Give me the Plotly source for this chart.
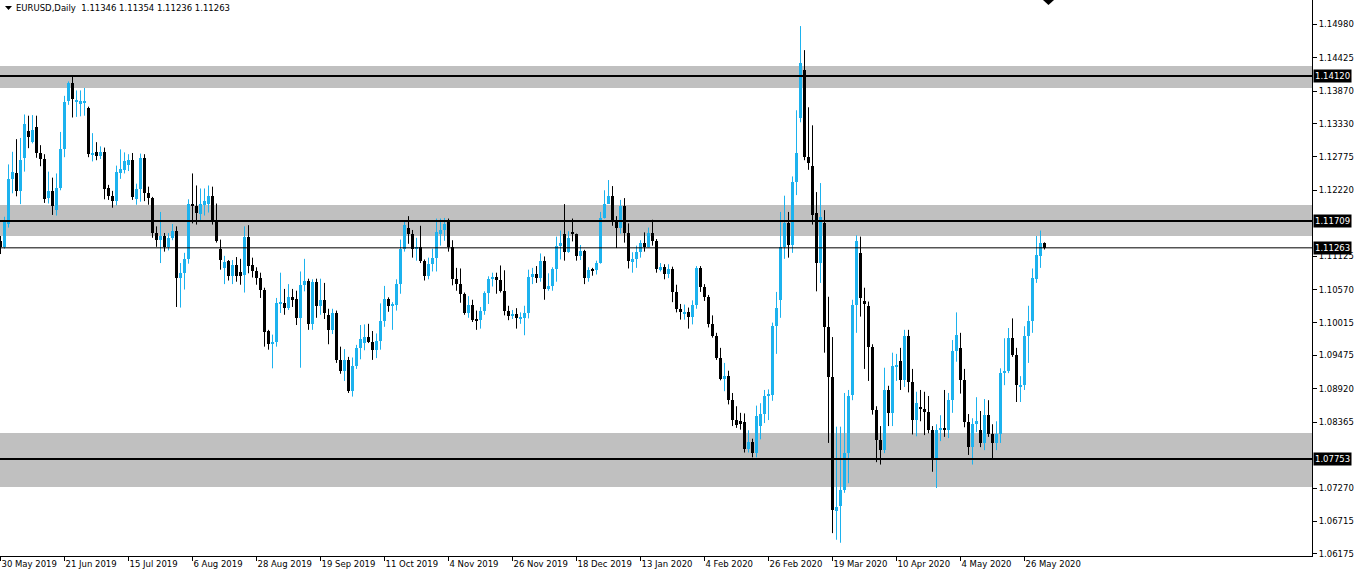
import pandas as pd
import plotly.graph_objects as go

# ---------------- data (EURUSD daily) ----------------
START, END = "2019-05-30", "2020-06-02"
HOLIDAYS = ["2019-12-25", "2020-01-01"]

OPEN = [
 1.1138,1.1128,1.1166,1.1240,1.1250,1.1220,1.1275,1.1320,1.1303,1.1327,
 1.1284,1.1274,1.1209,1.1220,1.1190,1.1226,1.1290,1.1371,1.1400,1.1368,
 1.1366,1.1367,1.1359,1.1280,1.1285,1.1279,1.1285,1.1225,1.1212,1.1204,
 1.1250,1.1256,1.1264,1.1272,1.1208,1.1224,1.1276,1.1218,1.1209,1.1151,
 1.1139,1.1146,1.1127,1.1143,1.1155,1.1076,1.1084,1.1108,1.1200,1.1196,
 1.1182,1.1197,1.1200,1.1213,1.1171,1.1125,1.1092,1.1105,1.1079,1.1097,
 1.1086,1.1081,1.1145,1.1097,1.1088,1.1077,1.1056,1.0988,1.0966,1.0970,
 1.1033,1.1034,1.1027,1.1045,1.1042,1.1009,1.1064,1.1071,1.1000,1.1070,
 1.1030,1.1040,1.1015,1.0990,1.1018,1.0940,1.0921,1.0940,1.0889,1.0930,
 1.0960,1.0968,1.0978,1.0970,1.0956,1.0972,1.1004,1.1042,1.1030,1.1031,
 1.1066,1.1124,1.1160,1.1150,1.1125,1.1128,1.1104,1.1080,1.1099,1.1109,
 1.1150,1.1156,1.1170,1.1128,1.1075,1.1066,1.1050,1.1018,1.1031,1.1007,
 1.1006,1.1021,1.1051,1.1074,1.1078,1.1073,1.1054,1.1021,1.1013,1.1016,
 1.1009,1.1009,1.1018,1.1078,1.1082,1.1077,1.1104,1.1058,1.1063,1.1091,
 1.1129,1.1150,1.1120,1.1153,1.1149,1.1112,1.1121,1.1077,1.1090,1.1089,
 1.1101,1.1176,1.1200,1.1213,1.1171,1.1160,1.1196,1.1151,1.1102,1.1108,
 1.1120,1.1134,1.1128,1.1151,1.1137,1.1091,1.1094,1.1082,1.1091,1.1053,
 1.1024,1.1016,1.1020,1.1012,1.1031,1.1093,1.1061,1.1045,1.1000,1.0980,
 1.0944,1.0909,1.0914,1.0873,1.0840,1.0838,1.0836,1.0792,1.0804,1.0786,
 1.0830,1.0850,1.0880,1.0882,1.0996,1.1040,1.1128,1.1168,1.1131,1.1236,
 1.1342,1.1422,1.1277,1.1262,1.1184,1.1101,1.1168,1.0995,1.0912,1.0689,
 1.0697,1.0724,1.0785,1.0882,1.1031,1.1117,1.1038,1.1030,1.0961,1.0856,
 1.0807,1.0790,1.0890,1.0852,1.0928,1.0938,1.0907,1.0980,1.0903,1.0840,
 1.0862,1.0858,1.0853,1.0823,1.0777,1.0823,1.0827,1.0823,1.0874,1.0955,
 1.0960,1.0907,1.0837,1.0795,1.0833,1.0824,1.0802,1.0849,1.0816,1.0802,
 1.0817,1.0918,1.0922,1.0976,1.0948,1.0895,1.0898,1.0980,1.1004,1.1075,
 1.1112,1.11346]
HIGH = [
 1.1146,1.1178,1.1265,1.1286,1.1307,1.1309,1.1348,1.1346,1.1347,1.1346,
 1.1297,1.1282,1.1253,1.1243,1.1250,1.1319,1.1379,1.1403,1.1412,1.1388,
 1.1388,1.1392,1.1361,1.1317,1.1302,1.1295,1.1293,1.1231,1.1221,1.1263,
 1.1290,1.1285,1.1282,1.1284,1.1233,1.1283,1.1282,1.1228,1.1211,1.1162,
 1.1186,1.1151,1.1151,1.1166,1.1162,1.1101,1.1118,1.1207,1.1250,1.1230,
 1.1225,1.1225,1.1230,1.1228,1.1200,1.1140,1.1113,1.1106,1.1106,1.1111,
 1.1108,1.1162,1.1164,1.1110,1.1094,1.1085,1.1060,1.0990,1.0982,1.1043,
 1.1085,1.1058,1.1066,1.1058,1.1055,1.1087,1.1108,1.1075,1.1074,1.1075,
 1.1075,1.1068,1.1025,1.1025,1.1022,1.0962,1.0958,1.0945,1.0944,1.0965,
 1.0998,1.0999,1.1000,1.0988,1.0984,1.1034,1.1063,1.1044,1.1036,1.1074,
 1.1140,1.1172,1.1179,1.1156,1.1143,1.1163,1.1107,1.1110,1.1125,1.1175,
 1.1175,1.1176,1.1175,1.1139,1.1093,1.1092,1.1052,1.1046,1.1040,1.1022,
 1.1028,1.1054,1.1079,1.1085,1.1085,1.1097,1.1089,1.1030,1.1023,1.1026,
 1.1019,1.1030,1.1090,1.1093,1.1096,1.1117,1.1112,1.1084,1.1094,1.1145,
 1.1155,1.1199,1.1154,1.1175,1.1150,1.1131,1.1123,1.1094,1.1093,1.1105,
 1.1186,1.1222,1.1239,1.1229,1.1179,1.1206,1.1209,1.1167,1.1119,1.1130,
 1.1139,1.1152,1.1160,1.1173,1.1141,1.1101,1.1099,1.1099,1.1095,1.1065,
 1.1033,1.1032,1.1027,1.1039,1.1096,1.1096,1.1066,1.1048,1.1014,1.0985,
 1.0960,1.0935,1.0922,1.0885,1.0863,1.0852,1.0851,1.0823,1.0809,1.0864,
 1.0868,1.0890,1.0891,1.1002,1.1053,1.1186,1.1213,1.1186,1.1245,1.1355,
 1.1495,1.1455,1.1360,1.1330,1.1219,1.1234,1.1189,1.1045,1.0978,1.0829,
 1.0829,1.0885,1.0890,1.1040,1.1147,1.1145,1.1060,1.1037,1.0966,1.0863,
 1.0830,1.0927,1.0897,1.0952,1.0950,1.0960,1.0990,1.0990,1.0925,1.0887,
 1.0890,1.0887,1.0880,1.0830,1.0833,1.0848,1.0890,1.0885,1.0973,1.1019,
 1.0985,1.0925,1.0850,1.0843,1.0878,1.0855,1.0875,1.0873,1.0833,1.0838,
 1.0926,1.0976,1.0993,1.1009,1.0960,1.0913,1.0996,1.1030,1.1092,1.1146,
 1.1155,1.11354]
LOW = [
 1.1116,1.1125,1.1160,1.1217,1.1212,1.1199,1.1253,1.1292,1.1300,1.1276,
 1.1262,1.1201,1.1200,1.1181,1.1180,1.1222,1.1277,1.1364,1.1343,1.1344,
 1.1345,1.1346,1.1277,1.1270,1.1272,1.1274,1.1207,1.1206,1.1193,1.1197,
 1.1241,1.1250,1.1254,1.1206,1.1198,1.1203,1.1204,1.1198,1.1143,1.1128,
 1.1101,1.1120,1.1122,1.1139,1.1028,1.1027,1.1057,1.1100,1.1167,1.1165,
 1.1170,1.1180,1.1185,1.1165,1.1135,1.1090,1.1066,1.1072,1.1066,1.1070,
 1.1065,1.1052,1.1084,1.1077,1.1065,1.1043,1.0962,1.0957,1.0926,1.0962,
 1.1018,1.1015,1.1023,1.1028,1.0998,1.0927,1.1054,1.0990,1.0990,1.1010,
 1.1015,1.1008,1.0966,1.0983,1.0935,1.0917,1.0905,1.0885,1.0879,1.0925,
 1.0941,1.0956,1.0968,1.0940,1.0943,1.0957,1.0995,1.1020,1.0990,1.1022,
 1.1050,1.1120,1.1133,1.1110,1.1105,1.1101,1.1072,1.1074,1.1087,1.1087,
 1.1130,1.1138,1.1120,1.1064,1.1055,1.1035,1.1015,1.1010,1.1003,1.0990,
 1.0992,1.1015,1.1033,1.1062,1.1050,1.1052,1.1014,1.1006,1.1008,1.0992,
 1.1000,1.0981,1.1009,1.1066,1.1068,1.1070,1.1040,1.1055,1.1055,1.1070,
 1.1107,1.1105,1.1118,1.1137,1.1105,1.1106,1.1066,1.1070,1.1080,1.1082,
 1.1100,1.1175,1.1200,1.1163,1.1126,1.1150,1.1135,1.1092,1.1085,1.1093,
 1.1110,1.1120,1.1127,1.1130,1.1085,1.1087,1.1074,1.1076,1.1036,1.1019,
 1.1007,1.1007,1.0992,1.0999,1.1025,1.1053,1.1038,1.0994,1.0977,1.0940,
 1.0906,1.0888,1.0866,1.0830,1.0827,1.0824,1.0786,1.0786,1.0778,1.0778,
 1.0808,1.0835,1.0840,1.0872,1.0950,1.1010,1.1108,1.1110,1.1118,1.1214,
 1.1335,1.1272,1.1256,1.1165,1.1054,1.1068,1.0952,1.0802,1.0652,1.0641,
 1.0636,1.0719,1.0735,1.0873,1.0985,1.1012,1.0925,1.0905,1.0849,1.0770,
 1.0766,1.0785,1.0830,1.0830,1.0905,1.0890,1.0895,1.0886,1.0816,1.0813,
 1.0838,1.0815,1.0818,1.0754,1.0727,1.0805,1.0812,1.0810,1.0852,1.0937,
 1.0884,1.0828,1.0782,1.0766,1.0820,1.0795,1.0790,1.0812,1.0774,1.0790,
 1.0802,1.0898,1.0918,1.0945,1.0870,1.0870,1.0890,1.0935,1.0985,1.1068,
 1.1093,1.11236]
CLOSE = [
 1.1128,1.1169,1.1240,1.1252,1.1220,1.1273,1.1332,1.1310,1.1322,1.1284,
 1.1274,1.1207,1.1220,1.1196,1.1226,1.1290,1.1368,1.1400,1.1373,1.1372,
 1.1370,1.1371,1.1282,1.1284,1.1279,1.1285,1.1224,1.1212,1.1204,1.1252,
 1.1257,1.1271,1.1272,1.1211,1.1224,1.1276,1.1218,1.1209,1.1151,1.1139,
 1.1146,1.1127,1.1143,1.1155,1.1076,1.1084,1.1108,1.1200,1.1196,1.1185,
 1.1200,1.1205,1.1213,1.1171,1.1138,1.1106,1.1103,1.1079,1.1097,1.1080,
 1.1080,1.1145,1.1096,1.1088,1.1077,1.1056,1.0986,1.0966,1.0970,1.1034,
 1.1034,1.1027,1.1045,1.1040,1.1009,1.1064,1.1071,1.1000,1.1070,1.1030,
 1.1040,1.1018,1.0990,1.1018,1.0940,1.0921,1.0940,1.0889,1.0930,1.0960,
 1.0974,1.0978,1.0970,1.0956,1.0972,1.1004,1.1042,1.1030,1.1031,1.1066,
 1.1124,1.1165,1.1150,1.1125,1.1128,1.1104,1.1080,1.1099,1.1109,1.1152,
 1.1156,1.1166,1.1128,1.1075,1.1066,1.1050,1.1018,1.1031,1.1007,1.1006,
 1.1021,1.1051,1.1074,1.1078,1.1073,1.1054,1.1021,1.1013,1.1016,1.1009,
 1.1012,1.1018,1.1078,1.1082,1.1077,1.1104,1.1058,1.1063,1.1091,1.1129,
 1.1135,1.1120,1.1143,1.1149,1.1112,1.1121,1.1077,1.1090,1.1089,1.1101,
 1.1176,1.1200,1.1213,1.1171,1.1160,1.1196,1.1151,1.1105,1.1108,1.1120,
 1.1134,1.1128,1.1151,1.1137,1.1091,1.1094,1.1082,1.1091,1.1053,1.1024,
 1.1021,1.1020,1.1012,1.1031,1.1093,1.1061,1.1045,1.1000,1.0980,1.0944,
 1.0909,1.0914,1.0873,1.0840,1.0831,1.0834,1.0792,1.0804,1.0786,1.0846,
 1.0850,1.0880,1.0882,1.0996,1.1026,1.1128,1.1168,1.1131,1.1236,1.1284,
 1.1434,1.1277,1.1267,1.1181,1.1101,1.1178,1.0995,1.0912,1.0691,1.0695,
 1.0724,1.0785,1.0880,1.1031,1.1138,1.1043,1.1033,1.0961,1.0856,1.0807,
 1.0790,1.0890,1.0852,1.0930,1.0932,1.0907,1.0980,1.0903,1.0840,1.0868,
 1.0860,1.0853,1.0823,1.0777,1.0823,1.0827,1.0823,1.0874,1.0955,1.0981,
 1.0907,1.0837,1.0795,1.0833,1.0838,1.0802,1.0849,1.0816,1.0802,1.0817,
 1.0918,1.0922,1.0976,1.0948,1.0899,1.0898,1.0980,1.1004,1.1077,1.1114,
 1.1134,1.11263]

TICK_DATES = ["2019-05-30","2019-06-21","2019-07-15","2019-08-06","2019-08-28",
              "2019-09-19","2019-10-11","2019-11-04","2019-11-26","2019-12-18",
              "2020-01-13","2020-02-04","2020-02-26","2020-03-19","2020-04-10",
              "2020-05-04","2020-05-26"]
TICK_LABELS = ["30 May 2019","21 Jun 2019","15 Jul 2019","6 Aug 2019","28 Aug 2019",
               "19 Sep 2019","11 Oct 2019","4 Nov 2019","26 Nov 2019","18 Dec 2019",
               "13 Jan 2020","4 Feb 2020","26 Feb 2020","19 Mar 2020","10 Apr 2020",
               "4 May 2020","26 May 2020"]
PRICE_TICKS = [1.14980,1.14425,1.13870,1.13330,1.12775,1.12220,1.11125,
               1.10570,1.10015,1.09475,1.08920,1.08365,1.07270,1.06715,1.06175]
LEVELS = [1.14120, 1.11709, 1.07753]          # thick horizontal lines
ZONES = [(1.13920, 1.14286), (1.11460, 1.11976), (1.07288, 1.08185)]
BID = 1.11263
TITLE = "EURUSD,Daily  1.11346 1.11354 1.11236 1.11263"

# ---------------- figure ----------------
dates = [d for d in pd.bdate_range(START, END) if d.strftime("%Y-%m-%d") not in HOLIDAYS]
date_str = [d.strftime("%Y-%m-%d") for d in dates]
xs = list(range(len(dates)))
tick_pos = [date_str.index(d) for d in TICK_DATES]

BULL, BEAR = "#1cb2ee", "#000000"
FONT = "DejaVu Sans"

fig = go.Figure()

# wicks
for color, cond in ((BULL, lambda o, c: c >= o), (BEAR, lambda o, c: c < o)):
    wx, wy = [], []
    for x, o, h, l, c in zip(xs, OPEN, HIGH, LOW, CLOSE):
        if cond(o, c):
            wx += [x, x, None]
            wy += [l, h, None]
    fig.add_trace(go.Scatter(x=wx, y=wy, mode="lines", line=dict(color=color, width=1),
                             hoverinfo="skip", showlegend=False))

# bodies
base = [min(o, c) for o, c in zip(OPEN, CLOSE)]
hgt = [max(abs(c - o), 0.00017) for o, c in zip(OPEN, CLOSE)]
cols = [BULL if c >= o else BEAR for o, c in zip(OPEN, CLOSE)]
fig.add_trace(go.Bar(x=xs, y=hgt, base=base, width=0.75, marker=dict(color=cols, line=dict(width=0)),
                     hoverinfo="skip", showlegend=False))

shapes = []
for lo, hi in ZONES:
    shapes.append(dict(type="rect", xref="paper", yref="y", x0=0, x1=1, y0=lo, y1=hi,
                       fillcolor="#c0c0c0", line=dict(width=0), layer="below"))
for lv in LEVELS:
    shapes.append(dict(type="line", xref="paper", yref="y", x0=0, x1=1, y0=lv, y1=lv,
                       line=dict(color="black", width=2), layer="above"))
shapes.append(dict(type="line", xref="paper", yref="y", x0=0, x1=1, y0=BID, y1=BID,
                   line=dict(color="black", width=1), layer="above"))

PW, PH = 1312.0, 556.0
def tri(pts):
    return "M " + " L ".join(f"{x/PW:.5f},{1 - y/PH:.5f}" for x, y in pts) + " Z"
shapes.append(dict(type="path", xref="paper", yref="paper", path=tri([(5, 6), (12, 6), (8.5, 10)]),
                   fillcolor="black", line=dict(width=0)))
shapes.append(dict(type="path", xref="paper", yref="paper", path=tri([(1043, 0), (1054, 0), (1048.5, 5)]),
                   fillcolor="black", line=dict(width=0)))

annotations = [dict(text=TITLE, xref="paper", yref="paper", x=0, y=1, xanchor="left", yanchor="top",
                    xshift=14, yshift=-1, showarrow=False, font=dict(family=FONT, size=8.5, color="black"))]
for lv in LEVELS + [BID]:
    annotations.append(dict(text=f"{lv:.5f}", xref="paper", yref="y", x=1, y=lv, xanchor="left",
                            yanchor="middle", xshift=1, showarrow=False, bgcolor="black",
                            borderpad=1, font=dict(family=FONT, size=8.5, color="white")))

fig.update_layout(
    width=1358, height=578,
    margin=dict(l=0, r=46, t=0, b=22),
    paper_bgcolor="white", plot_bgcolor="white",
    barmode="overlay", bargap=0,
    shapes=shapes, annotations=annotations,
    xaxis=dict(range=[-0.125, 327.875], tickvals=tick_pos, ticktext=TICK_LABELS,
               ticks="outside", ticklen=4, tickcolor="black", ticklabelposition="outside right",
               showline=True, linecolor="black", linewidth=1, showgrid=False, zeroline=False,
               tickfont=dict(family=FONT, size=8.5, color="black"), fixedrange=True),
    yaxis=dict(side="right", range=[1.061398, 1.153835], tickvals=PRICE_TICKS,
               ticktext=[f"{v:.5f}" for v in PRICE_TICKS],
               ticks="outside", ticklen=4, tickcolor="black",
               showline=True, linecolor="black", linewidth=1, showgrid=False, zeroline=False,
               tickfont=dict(family=FONT, size=8.5, color="black"), fixedrange=True),
    showlegend=False,
)

fig.write_html("out.html", config={"displayModeBar": False},
               post_script="document.body.style.margin='0';document.body.style.overflow='hidden';")
